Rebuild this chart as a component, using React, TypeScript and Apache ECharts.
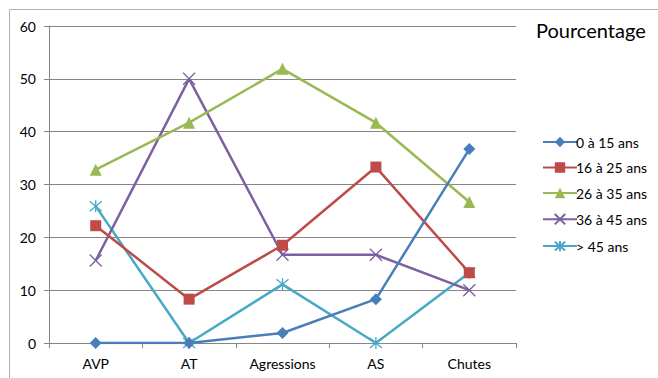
import React, { useEffect, useRef } from "react";
import * as echarts from "echarts";

const categories = ["AVP", "AT", "Agressions", "AS", "Chutes"];
const seriesNames = ["0 à 15 ans", "16 à 25 ans", "26 à 35 ans", "36 à 45 ans", "> 45 ans"];
const age0to15 = [0, 0, 1.9, 8.3, 36.7];
const age16to25 = [22.2, 8.3, 18.5, 33.3, 13.3];
const age26to35 = [32.8, 41.7, 51.9, 41.7, 26.7];
const age36to45 = [15.6, 50, 16.7, 16.7, 10];
const ageOver45 = [25.9, 0, 11.1, 0, 13.3];
const yTicks = [0, 10, 20, 30, 40, 50, 60];

const colors = ["#4A7EBB", "#BE4B48", "#98B954", "#7D60A0", "#46AAC5"];
const crossPath = "path://M0,0L10,10M0,10L10,0";
const starPath = "path://M0,0L10,10M0,10L10,0M5,-1L5,11";
const symbols = ["diamond", "rect", "triangle", crossPath, starPath];
const symbolSizes = [12, 11, 12, 12, 12];

const FONT = "Lato, 'Open Sans', sans-serif";

export default function App() {
  const ref = useRef<HTMLDivElement>(null);
  useEffect(() => {
    const chart = echarts.init(ref.current!, undefined, { renderer: "svg" });
    const values = [age0to15, age16to25, age26to35, age36to45, ageOver45];
    chart.setOption({
      animation: false,
      backgroundColor: "#fff",
      textStyle: { fontFamily: FONT },
      title: {
        text: "Pourcentage",
        left: 531,
        top: 15,
        textStyle: { fontSize: 20, fontWeight: "normal", color: "#000", fontFamily: FONT },
      },
      legend: {
        orient: "vertical",
        left: 537,
        top: 130,
        itemWidth: 34,
        itemHeight: 13,
        itemGap: 11.5,
        textStyle: { fontSize: 14, color: "#000", fontFamily: FONT, padding: [0, 0, 0, -6] },
        data: seriesNames,
      },
      graphic: [
        {
          type: "rect",
          shape: { x: 9.5, y: 9.5, width: 700, height: 400 },
          style: { fill: "none", stroke: "#b0b0b0", lineWidth: 1 },
          silent: true,
        },
      ],
      grid: { left: 49, right: 142, top: 26, bottom: 35, containLabel: false },
      xAxis: {
        type: "category",
        data: categories,
        boundaryGap: true,
        axisLine: { lineStyle: { color: "#868686", width: 1 } },
        axisTick: { show: true, length: 5, lineStyle: { color: "#868686" } },
        axisLabel: { color: "#000", fontSize: 14, margin: 13, fontFamily: FONT },
      },
      yAxis: {
        type: "value",
        min: 0,
        max: 60,
        interval: 10,
        axisLine: { show: true, lineStyle: { color: "#868686", width: 1 } },
        axisTick: { show: true, length: 5, lineStyle: { color: "#868686" } },
        axisLabel: {
          color: "#000",
          fontSize: 14,
          margin: 13,
          fontFamily: FONT,
          formatter: (v: number) => (yTicks.includes(v) ? String(v) : ""),
        },
        splitLine: { lineStyle: { color: "#868686", width: 1 } },
      },
      series: seriesNames.map((name, i) => ({
        name,
        type: "line",
        data: values[i],
        symbol: symbols[i],
        symbolSize: symbolSizes[i],
        showAllSymbol: true,
        lineStyle: { color: colors[i], width: 2.5 },
        itemStyle: {
          color: i >= 3 ? "none" : colors[i],
          borderColor: colors[i],
          borderWidth: i >= 3 ? 1.3 : 0,
        },
        emphasis: { disabled: true },
        z: 10 - i,
      })),
    });
    return () => chart.dispose();
  }, []);
  return <div ref={ref} style={{ width: 658, height: 378, position: "absolute", left: 0, top: 0 }} />;
}
